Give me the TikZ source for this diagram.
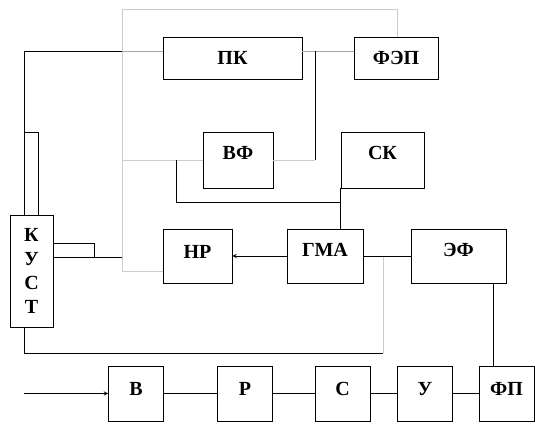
\documentclass[tikz,border=0pt]{standalone}
\usepackage{fontspec}
\setmainfont{Liberation Serif}
\begin{document}
\begin{tikzpicture}[x=1pt, y=-1pt, >=stealth,
    blk/.style={draw, line width=0.9pt, inner sep=0pt, font=\fontsize{20}{24}\selectfont\bfseries},
    lift/.style={text height=13pt, text depth=#1},
    wire/.style={line width=0.9pt},
    faint/.style={line width=0.7pt, gray!40}]
      \useasboundingbox (0,0) rectangle (535,423);
      % upper blocks
      \node[blk, minimum width=139, minimum height=42] (pk) at (232.5,58) {ПК};
      \node[blk, minimum width=84, minimum height=42] (fep) at (396,58) {ФЭП};
      \node[blk, lift=14pt, minimum width=70, minimum height=56] (vf) at (238,160) {ВФ};
      \node[blk, lift=14pt, minimum width=83, minimum height=56] (sk) at (382.5,160) {СК};
      \node[blk, lift=8pt, minimum width=69, minimum height=54] (nr) at (197.5,256) {НР};
      \node[blk, lift=12pt, minimum width=76, minimum height=54] (gma) at (325,256) {ГМА};
      \node[blk, lift=12pt, minimum width=95, minimum height=54] (ef) at (458.5,256) {ЭФ};
      \node[blk, minimum width=43, minimum height=112, align=center] (kust) at (31.5,271) {К\\У\\С\\Т};
      % lower row
      \def\rowy{393.5}
      \foreach \name/\xc/\txt in {v/136/В, r/245/Р, s/342.5/С, u/425/У, fp/506.5/ФП}
        \node[blk, lift=10pt, minimum width=55, minimum height=55] (\name) at (\xc,\rowy) {\txt};
      \coordinate (in) at (24,\rowy);
      \draw[wire, ->] (in) -- (v);
      \foreach \a/\b in {v/r, r/s, s/u, u/fp}
        \draw[wire] (\a) -- (\b);
      % feedback lines
      \coordinate (lt) at (122,9);
      \coordinate (rt) at (397,9);
      \draw[faint] ([yshift=-15pt]nr.west) -| (lt) -- (rt) -- (fep.north -| rt);
      \draw[faint] (vf.west -| lt) -- (vf.west);
      \draw[wire] (kust.north -| 24,0) -- (24,51) -- (24,51 -| lt);
      \draw[wire, gray!70] (24,51 -| lt) -- ([yshift=7pt]pk.west);
      \draw[wire] (kust.north -| 38,0) -- (38,132) -- (24,132);
      \draw[wire, gray!70] ([yshift=7pt]pk.east) -- ([yshift=7pt]fep.west);
      \coordinate (tap) at (315,51);
      \draw[wire] (tap) -- (tap |- vf.east);
      \draw[faint] (tap |- vf.east) -- (vf.east);
      \draw[wire] (176,160) -- (176,202) -- (sk.west |- 0,202);
      \draw[wire] (sk.south west) -- (sk.west |- gma.north);
      \draw[wire, ->] (gma.west) -- (nr.east);
      \draw[wire] (gma.east) -- (ef.west);
      \draw[wire] (ef.south -| 493,0) -- (fp.north -| 493,0);
      \draw[wire] (kust.south -| 24,0) -- (24,353) -- (383,353);
      \draw[faint] (383,353) -- (383,257);
      \draw[wire] (kust.east |- 0,243) -- (94,243) -- (94,257);
      \draw[wire] (kust.east |- 0,257) -- (122,257);
    \end{tikzpicture}
\end{document}
